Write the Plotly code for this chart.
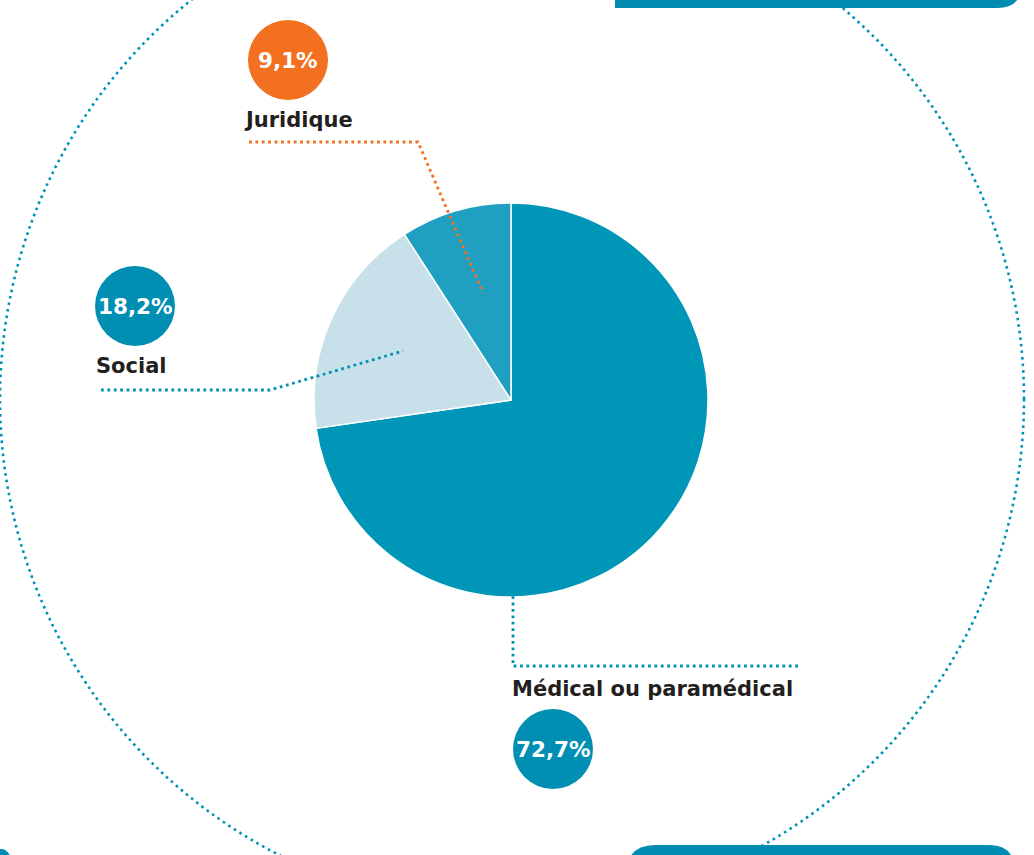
import plotly.graph_objects as go

# ---- data ----
categories = ["Médical ou paramédical", "Social", "Juridique"]
values = [72.7, 18.2, 9.1]
slice_colors = ["#0096b7", "#c8e0e9", "#20a0c1"]
bubble_colors = ["#008fb3", "#008fb3", "#f37021"]

W, H = 1034, 855
TEAL = "#0092b5"
ORANGE = "#f37021"
DARK = "#231f20"
BAR = "#008bb0"
FONT = "DejaVu Sans"

# pie geometry (pixels)
cx, cy, r = 511, 400, 197

fig = go.Figure()
fig.add_trace(go.Pie(
    labels=categories, values=values, sort=False, direction="clockwise",
    rotation=0, textinfo="none", hoverinfo="label+percent",
    marker=dict(colors=slice_colors, line=dict(color="white", width=1.5)),
    domain=dict(x=[(cx - r) / W, (cx + r) / W],
                y=[(H - cy - r) / H, (H - cy + r) / H]),
    showlegend=False,
))

shapes = []
# big dotted circle
R = 512
shapes.append(dict(type="circle", xref="x", yref="y", x0=512 - R, x1=512 + R,
                   y0=399 - R, y1=399 + R,
                   line=dict(color=TEAL, width=2.6, dash="2.6px,4px")))
# decorative bars
shapes.append(dict(type="path", xref="x", yref="y",
                   path="M615,-20 L1022,-20 L1022,-17 Q1022,8 997,8 L615,8 Z",
                   fillcolor=BAR, line=dict(width=0)))
shapes.append(dict(type="path", xref="x", yref="y",
                   path="M626,870 L626,872 Q628,845 655,845 L990,845 Q1013,845 1016,870 Z",
                   fillcolor=BAR, line=dict(width=0)))
shapes.append(dict(type="path", xref="x", yref="y",
                   path="M-20,870 L-20,862 Q-12,848 2,849 Q11,850 14,870 Z",
                   fillcolor=BAR, line=dict(width=0)))

# leader lines
lead_dash = "2.8px,3.6px"
lw = 2.8
shapes.append(dict(type="path", xref="x", yref="y",
                   path="M249,142 L418,142 L483,293",
                   line=dict(color=ORANGE, width=lw, dash=lead_dash)))
shapes.append(dict(type="path", xref="x", yref="y",
                   path="M101,390 L270,390 L403,351",
                   line=dict(color=TEAL, width=lw, dash=lead_dash)))
shapes.append(dict(type="path", xref="x", yref="y",
                   path="M513,513 L513,666 L798,666",
                   line=dict(color=TEAL, width=lw, dash=lead_dash)))

# bubbles
bubble_pos = {"Médical ou paramédical": (553, 749),
              "Social": (135, 306),
              "Juridique": (288, 60)}
label_pos = {"Médical ou paramédical": (510, 689),
             "Social": (94, 366),
             "Juridique": (242, 120)}
br = 40
annotations = []
for cat, val, col in zip(categories, values, bubble_colors):
    bx, by = bubble_pos[cat]
    shapes.append(dict(type="circle", xref="x", yref="y",
                       x0=bx - br, x1=bx + br, y0=by - br, y1=by + br,
                       fillcolor=col, line=dict(width=0)))
    annotations.append(dict(x=bx, y=by, xref="x", yref="y", showarrow=False,
                            text=f"<b>{val:.1f}%</b>".replace(".", ","),
                            font=dict(family=FONT, size=21.5, color="white"),
                            xanchor="center", yanchor="middle"))
    lx, ly = label_pos[cat]
    annotations.append(dict(x=lx, y=ly, xref="x", yref="y", showarrow=False,
                            text=f"<b>{cat}</b>",
                            font=dict(family=FONT, size=21, color=DARK),
                            xanchor="left", yanchor="middle"))

fig.update_layout(
    width=W, height=H, margin=dict(l=0, r=0, t=0, b=0),
    paper_bgcolor="white", plot_bgcolor="white",
    xaxis=dict(range=[0, W], visible=False, fixedrange=True),
    yaxis=dict(range=[H, 0], visible=False, fixedrange=True),
    shapes=shapes, annotations=annotations,
)

fig.write_html("out.html")
